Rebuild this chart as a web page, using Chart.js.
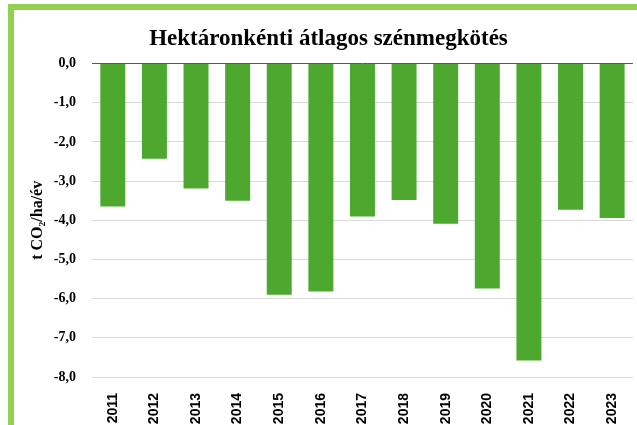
<!DOCTYPE html>
<html>
<head>
<meta charset="utf-8">
<script src="https://cdn.jsdelivr.net/npm/chart.js@4/dist/chart.umd.min.js"></script>
<style>
    html, body { margin: 0; padding: 0; background: #fff; overflow: hidden; }
    #wrap { position: relative; width: 637px; height: 425px; }
    #frame {
        position: absolute; left: 8px; top: 4px;
        width: 700px; height: 500px;
        border-left: 6px solid #92d050;
        border-top: 6px solid #92d050;
    }
    #graph1 { position: absolute; left: 0; top: 0; }
</style>
</head>
<body>
<div id="wrap">
    <div id="frame"></div>
    <canvas id="graph1" width="637" height="425"></canvas>
</div>
<script>
// chart data
var years = ["2011", "2012", "2013", "2014", "2015", "2016", "2017",
             "2018", "2019", "2020", "2021", "2022", "2023"];
var carbon = [-3.65, -2.43, -3.19, -3.50, -5.90, -5.82, -3.90,
              -3.48, -4.09, -5.74, -7.58, -3.73, -3.94];
var yMin = -8;
var yMax = 0;

const g1 = new Chart("graph1", {
    type: "bar",
    data: {
        labels: years,
        datasets: [{
            label: "Hektáronkénti átlagos szénmegkötés",
            backgroundColor: "#4ea72e",
            borderWidth: 0,
            data: carbon,
            categoryPercentage: 1.0,
            barPercentage: 0.6
        }]
    },
    options: {
        responsive: false,
        animation: false,
        layout: {
            // left padding keeps the title centred like the original
            padding: { left: 22, right: 2, top: 0, bottom: 0 }
        },
        plugins: {
            legend: { display: false },
            tooltip: { enabled: false },
            title: {
                display: true,
                text: "Hektáronkénti átlagos szénmegkötés",
                color: "#000",
                font: { family: "'Liberation Serif', serif", size: 23, weight: "bold" },
                padding: { top: 25, bottom: 11 }
            }
        },
        scales: {
            x: {
                grid: { display: false },
                border: { display: false },
                ticks: {
                    color: "#000",
                    minRotation: 90,
                    maxRotation: 90,
                    padding: 8,
                    font: { family: "'Liberation Sans', sans-serif", size: 14, weight: "bold" }
                },
                afterFit: function(scale) { scale.height = 48; }
            },
            y: {
                min: yMin,
                max: yMax,
                border: { display: false },
                grid: {
                    drawTicks: false,
                    color: function(ctx) {
                        return ctx.tick && ctx.tick.value === 0 ? "#595959" : "#d9d9d9";
                    }
                },
                ticks: {
                    stepSize: 1,
                    color: "#000",
                    padding: 16,
                    font: { family: "'Liberation Serif', serif", size: 14, weight: "bold" },
                    callback: function(v) {
                        if (v === 0) return "0,0";
                        return v.toFixed(1).replace(".", ",");
                    }
                },
                title: {
                    display: true,
                    text: "t CO₂/ha/év",
                    color: "#000",
                    font: { family: "'Liberation Serif', serif", size: 16, weight: "bold" },
                    padding: { top: 6, bottom: 0 }
                },
                afterFit: function(scale) { scale.width = 70; }
            }
        }
    }
});
</script>
</body>
</html>
